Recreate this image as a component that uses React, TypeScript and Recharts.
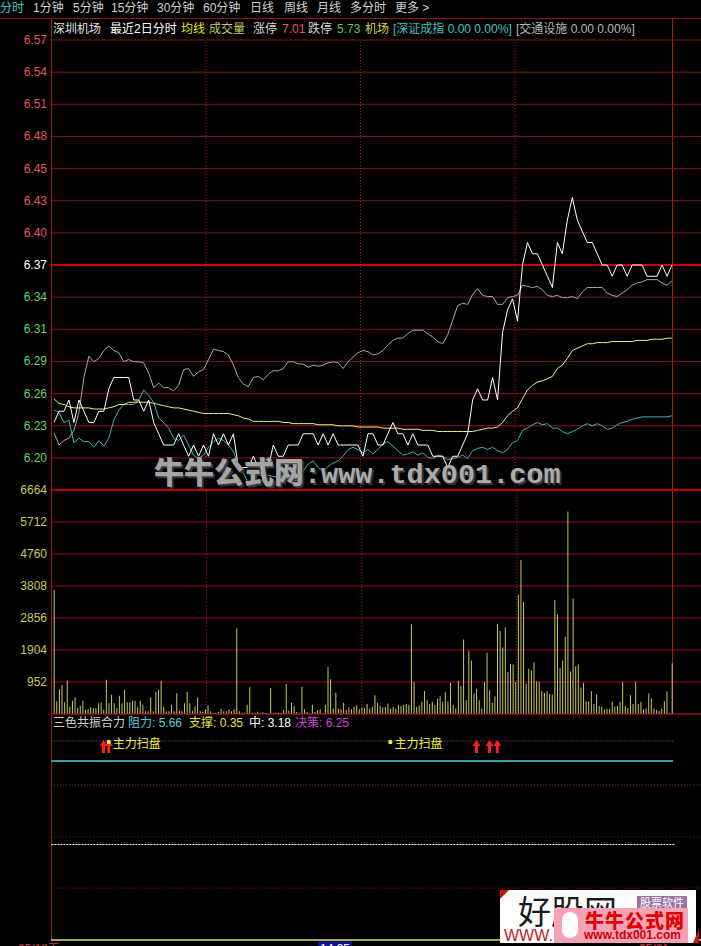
import React from "react";
import {
  LineChart,
  Line,
  BarChart,
  Bar,
  ComposedChart,
  Scatter,
  XAxis,
  YAxis,
  CartesianGrid,
  ReferenceLine,
} from "recharts";

// ---- price panel (2 days, sampled) ----
const PREV_CLOSE = 6.37;
const PRICE_LABELS = ["6.20", "6.23", "6.26", "6.29", "6.31", "6.34", "6.37", "6.40", "6.43", "6.45", "6.48", "6.51", "6.54", "6.57"];
const PRICE_TICKS = PRICE_LABELS.map((_, i) => PREV_CLOSE + ((i - 6) * 0.2) / 7);

const PRICE = [
  6.23, 6.24, 6.24, 6.25, 6.23, 6.25, 6.24, 6.23, 6.23, 6.24,
  6.24, 6.26, 6.27, 6.27, 6.27, 6.27, 6.25, 6.25, 6.24, 6.25,
  6.23, 6.22, 6.21, 6.21, 6.21, 6.22, 6.21, 6.20, 6.21, 6.20,
  6.21, 6.20, 6.22, 6.21, 6.22, 6.21, 6.22, 6.19, 6.19, 6.19,
  6.20, 6.19, 6.19, 6.19, 6.21, 6.20, 6.20, 6.21, 6.21, 6.21,
  6.22, 6.22, 6.22, 6.21, 6.22, 6.21, 6.22, 6.21, 6.21, 6.21,
  6.21, 6.21, 6.20, 6.22, 6.22, 6.21, 6.21, 6.22, 6.23, 6.22,
  6.22, 6.21, 6.22, 6.21, 6.21, 6.21, 6.20, 6.20, 6.20, 6.19,
  6.20, 6.20, 6.21, 6.22, 6.25, 6.26, 6.25, 6.25, 6.27, 6.25,
  6.31, 6.33, 6.34, 6.32, 6.37, 6.39, 6.38, 6.38, 6.37, 6.36,
  6.35, 6.39, 6.38, 6.41, 6.43, 6.41, 6.40, 6.39, 6.39, 6.38,
  6.37, 6.37, 6.36, 6.37, 6.37, 6.36, 6.37, 6.37, 6.37, 6.36,
  6.36, 6.36, 6.37, 6.36, 6.37,
];

// 深证成指 overlay
const INDEX = [
  6.221, 6.210, 6.214, 6.216, 6.223, 6.239, 6.270, 6.289, 6.284, 6.287,
  6.294, 6.298, 6.294, 6.292, 6.284, 6.286, 6.284, 6.284, 6.283, 6.274,
  6.261, 6.265, 6.261, 6.261, 6.258, 6.263, 6.277, 6.278, 6.271, 6.275,
  6.277, 6.286, 6.295, 6.294, 6.293, 6.290, 6.281, 6.270, 6.264, 6.262,
  6.270, 6.271, 6.268, 6.273, 6.276, 6.276, 6.278, 6.284, 6.284, 6.282,
  6.282, 6.279, 6.281, 6.280, 6.281, 6.283, 6.284, 6.283, 6.278, 6.284,
  6.288, 6.292, 6.294, 6.293, 6.290, 6.291, 6.294, 6.299, 6.303, 6.305,
  6.305, 6.309, 6.312, 6.312, 6.312, 6.309, 6.306, 6.302, 6.300, 6.308,
  6.321, 6.334, 6.336, 6.335, 6.344, 6.349, 6.343, 6.342, 6.342, 6.335,
  6.335, 6.341, 6.342, 6.343, 6.352, 6.351, 6.350, 6.351, 6.348, 6.343,
  6.342, 6.343, 6.341, 6.341, 6.342, 6.340, 6.346, 6.350, 6.350, 6.350,
  6.350, 6.345, 6.343, 6.342, 6.345, 6.348, 6.352, 6.354, 6.355, 6.357,
  6.357, 6.357, 6.354, 6.352, 6.356,
];

// 交通设施 overlay
const SECTOR = [
  6.241, 6.239, 6.230, 6.232, 6.212, 6.216, 6.213, 6.213, 6.208, 6.214,
  6.209, 6.216, 6.232, 6.241, 6.246, 6.246, 6.246, 6.250, 6.259, 6.254,
  6.248, 6.234, 6.230, 6.225, 6.216, 6.214, 6.219, 6.210, 6.201, 6.198,
  6.201, 6.208, 6.213, 6.216, 6.214, 6.210, 6.204, 6.192, 6.185, 6.176,
  6.173, 6.175, 6.180, 6.183, 6.182, 6.181, 6.188, 6.182, 6.178, 6.179,
  6.187, 6.193, 6.196, 6.190, 6.187, 6.191, 6.194, 6.196, 6.200, 6.206,
  6.208, 6.206, 6.203, 6.206, 6.202, 6.206, 6.211, 6.213, 6.209, 6.205,
  6.201, 6.202, 6.204, 6.201, 6.203, 6.199, 6.198, 6.201, 6.200, 6.197,
  6.198, 6.199, 6.201, 6.198, 6.205, 6.207, 6.208, 6.206, 6.208, 6.205,
  6.203, 6.206, 6.212, 6.214, 6.223, 6.225, 6.228, 6.230, 6.228, 6.229,
  6.225, 6.225, 6.222, 6.220, 6.222, 6.224, 6.227, 6.229, 6.227, 6.229,
  6.227, 6.224, 6.225, 6.228, 6.230, 6.231, 6.233, 6.234, 6.235, 6.235,
  6.235, 6.235, 6.235, 6.235, 6.236,
];

// 均线
const AVG = [
  6.251, 6.247, 6.246, 6.244, 6.243, 6.243, 6.243, 6.243, 6.242, 6.242,
  6.242, 6.243, 6.244, 6.246, 6.246, 6.248, 6.248, 6.248, 6.248, 6.248,
  6.247, 6.246, 6.245, 6.244, 6.243, 6.243, 6.242, 6.241, 6.240, 6.239,
  6.238, 6.238, 6.238, 6.238, 6.238, 6.238, 6.237, 6.236, 6.234, 6.233,
  6.231, 6.231, 6.231, 6.231, 6.231, 6.231, 6.230, 6.230, 6.229, 6.229,
  6.229, 6.229, 6.229, 6.228, 6.228, 6.228, 6.228, 6.227, 6.227, 6.227,
  6.227, 6.226, 6.226, 6.226, 6.226, 6.226, 6.225, 6.225, 6.225, 6.225,
  6.224, 6.224, 6.224, 6.224, 6.223, 6.223, 6.223, 6.222, 6.222, 6.222,
  6.222, 6.222, 6.222, 6.222, 6.222, 6.223, 6.224, 6.225, 6.225, 6.226,
  6.230, 6.236, 6.240, 6.243, 6.251, 6.259, 6.263, 6.266, 6.267, 6.269,
  6.271, 6.278, 6.281, 6.287, 6.294, 6.296, 6.298, 6.300, 6.300, 6.301,
  6.301, 6.301, 6.302, 6.302, 6.302, 6.302, 6.302, 6.303, 6.303, 6.303,
  6.304, 6.304, 6.304, 6.305, 6.305,
];

// session boundaries (11:30 / day change / 11:30), in sample index
const PRICE_BREAKS = [30.5, 61.5, 92.5];

// ---- volume panel ----
const VOL_TICKS = [952, 1904, 2856, 3808, 4760, 5712, 6664];
const VOL_DAY1 = [
  3690, 377, 734, 873, 347, 992, 218, 397, 496, 179,
  248, 397, 119, 149, 198, 179, 169, 317, 347, 129,
  1022, 317, 575, 317, 169, 546, 317, 724, 347, 347,
  397, 397, 198, 397, 278, 79, 79, 496, 79, 665,
  724, 992, 218, 79, 79, 278, 79, 615, 99, 79,
  317, 665, 317, 99, 228, 496, 79, 69, 139, 258,
  79, 40, 40, 60, 159, 79, 79, 119, 79, 139,
  2549, 79, 40, 40, 278, 794, 40, 40, 69, 40,
  50, 20, 20, 774, 20, 40, 40, 40, 119, 893,
  99, 337, 248, 60, 40, 813, 139, 60, 20, 278,
  60, 119, 139, 20, 278, 1409, 1032, 159, 635, 159,
  139, 337, 119, 198, 139, 218, 258, 139, 218, 179, 298,
];
const VOL_DAY2 = [
  157, 216, 559, 334, 235, 196, 216, 314, 167, 216,
  157, 265, 235, 275, 294, 275, 2668, 952, 216, 255,
  363, 687, 412, 294, 363, 265, 461, 530, 363, 647,
  373, 922, 265, 167, 981, 824, 2217, 412, 1884, 1589,
  608, 746, 412, 167, 952, 1825, 706, 334, 530, 2688,
  2472, 1982, 2570, 1246, 1491, 1472, 952, 3551, 4581, 3335,
  902, 1344, 1295, 1540, 971, 952, 687, 628, 677, 589,
  579, 3394, 2963, 1364, 1589, 2296, 6023, 1265, 3434, 1413,
  1472, 785, 932, 383, 383, 677, 294, 579, 235, 216,
  137, 167, 147, 363, 216, 235, 363, 952, 235, 177,
  559, 294, 952, 294, 363, 137, 167, 608, 461, 167,
  118, 98, 167, 383, 677, 39, 1511,
];
const VOLUME = [...VOL_DAY1, ...VOL_DAY2];
const VOL_BREAKS = [58.5, 118, 177.5];

// ---- 三色共振合力 ----
const RESIST = 5.66;
const SUPPORT = 0.35;
const MID = 3.18;
const DECISION = 6.25;
const IND_GRID = [4.95, 3.4, 1.89];
const ARROW_BARS = [19, 21, 162, 167, 170];
const SWEEP_BARS = [21, 129];

const GRID = "#8c1212";
const FONT = "'Liberation Sans', 'Noto Sans CJK SC', sans-serif";
const CJK = "'Noto Sans CJK SC', sans-serif";

const MENU: [string, number, string][] = [
  ["分时", 0, "#40c8c8"],
  ["1分钟", 33, "#d0d0d0"],
  ["5分钟", 73, "#d0d0d0"],
  ["15分钟", 111, "#d0d0d0"],
  ["30分钟", 157, "#d0d0d0"],
  ["60分钟", 203, "#d0d0d0"],
  ["日线", 250, "#d0d0d0"],
  ["周线", 284, "#d0d0d0"],
  ["月线", 317, "#d0d0d0"],
  ["多分时", 350, "#d0d0d0"],
  ["更多 >", 395, "#d0d0d0"],
];

const HEADER: [string, number, string][] = [
  ["深圳机场", 53, "#e0e0e0"],
  ["最近2日分时", 110, "#ffffff"],
  ["均线", 181, "#e8e800"],
  ["成交量", 209, "#c8c860"],
  ["涨停", 253, "#d8d8d8"],
  ["7.01", 282, "#f05050"],
  ["跌停", 308, "#d8d8d8"],
  ["5.73", 337, "#50d050"],
  ["机场", 365, "#d8d840"],
  ["[深证成指 0.00 0.00%]", 393, "#40c0c0"],
  ["[交通设施 0.00 0.00%]", 516, "#b8b8b8"],
];

const IND_HEADER: [string, number, string][] = [
  ["三色共振合力", 53, "#d0d0d0"],
  [`阻力: ${RESIST.toFixed(2)}`, 128, "#50d0d0"],
  [`支撑: ${SUPPORT.toFixed(2)}`, 189, "#e0e040"],
  [`中: ${MID.toFixed(2)}`, 249, "#ffffff"],
  [`决策: ${DECISION.toFixed(2)}`, 295, "#d040d0"],
];

function Txt({ x, y, color, children, size = 12, font = FONT }: any) {
  return (
    <div
      style={{
        position: "absolute",
        left: x,
        top: y - 7,
        color,
        fontSize: size,
        lineHeight: "14px",
        fontFamily: font,
        whiteSpace: "pre",
      }}
    >
      {children}
    </div>
  );
}

function renderPriceTick(props: any) {
  const { x, y, payload } = props;
  const v = payload.value;
  const i = PRICE_TICKS.findIndex((t) => Math.abs(t - v) < 1e-6);
  const color = Math.abs(v - PREV_CLOSE) < 1e-6 ? "#ffffff" : v > PREV_CLOSE ? "#e05858" : "#66d466";
  return (
    <text x={x} y={y} dy={4} textAnchor="end" fill={color} fontSize={12} fontFamily={FONT}>
      {PRICE_LABELS[i]}
    </text>
  );
}

function renderVolTick(props: any) {
  const { x, y, payload } = props;
  return (
    <text x={x} y={y} dy={4} textAnchor="end" fill="#c8c85a" fontSize={12} fontFamily={FONT}>
      {payload.value}
    </text>
  );
}

function renderArrow(props: any) {
  const { cx, cy } = props;
  return (
    <path
      d={`M${cx},${cy - 1} L${cx + 4},${cy + 5} L${cx + 1.5},${cy + 5} L${cx + 1.5},${cy + 12} L${cx - 1.5},${cy + 12} L${cx - 1.5},${cy + 5} L${cx - 4},${cy + 5} Z`}
      fill="#ff1e1e"
    />
  );
}

function renderSweep(props: any) {
  const { cx, cy } = props;
  return (
    <g>
      <circle cx={cx} cy={cy + 1} r={2.2} fill="#f0f020" />
      <text x={cx + 4} y={cy + 7} fill="#f0f040" fontSize={12} fontFamily={CJK}>
        主力扫盘
      </text>
    </g>
  );
}

export default function App() {
  const priceData = PRICE.map((w, i) => ({ t: i, w, g: INDEX[i], c: SECTOR[i], a: AVG[i] }));
  const volData = VOLUME.map((v, i) => ({ t: i, v }));
  const arrowData = ARROW_BARS.map((t) => ({ t, v: DECISION }));
  const sweepData = SWEEP_BARS.map((t) => ({ t, v: DECISION }));
  const lastBar = VOLUME.length - 1;

  return (
    <div style={{ position: "absolute", left: 0, top: 0, width: 701, height: 946, background: "#000", overflow: "hidden" }}>
      {/* frame */}
      <div style={{ position: "absolute", left: 0, top: 18, width: 701, height: 1, background: "#8c1212" }} />
      <div style={{ position: "absolute", left: 51, top: 19, width: 1, height: 921, background: "#b01818" }} />
      <div style={{ position: "absolute", left: 672, top: 19, width: 1, height: 695, background: "#c01010" }} />

      {/* price */}
      <div style={{ position: "absolute", left: 0, top: 0 }}>
        <LineChart width={701} height={500} data={priceData} margin={{ top: 40, right: 0, bottom: 10, left: 0 }}>
          <CartesianGrid vertical={false} stroke={GRID} />
          <XAxis dataKey="t" type="number" domain={[0, PRICE.length - 1]} hide padding={{ left: 3, right: 29 }} />
          <YAxis
            type="number"
            domain={[PREV_CLOSE - 0.2, PREV_CLOSE + 0.2]}
            ticks={PRICE_TICKS}
            interval={0}
            width={51}
            tick={renderPriceTick}
            axisLine={false}
            tickLine={false}
            tickSize={0}
            tickMargin={4}
            allowDataOverflow
          />
          <ReferenceLine y={PREV_CLOSE} stroke="#d00000" strokeWidth={2} />
          {PRICE_BREAKS.map((x) => (
            <ReferenceLine key={x} x={x} stroke="#b02020" strokeDasharray="1 2" />
          ))}
          <Line dataKey="g" stroke="#a8a8a8" strokeWidth={1} dot={false} isAnimationActive={false} />
          <Line dataKey="c" stroke="#3cb4b4" strokeWidth={1} dot={false} isAnimationActive={false} />
          <Line dataKey="a" stroke="#f0f080" strokeWidth={1} dot={false} isAnimationActive={false} />
          <Line dataKey="w" stroke="#ffffff" strokeWidth={1} dot={false} isAnimationActive={false} />
        </LineChart>
      </div>

      {/* volume */}
      <div style={{ position: "absolute", left: 0, top: 480 }}>
        <BarChart width={701} height={250} data={volData} margin={{ top: 10, right: 0, bottom: 16, left: 0 }}>
          <CartesianGrid vertical={false} stroke={GRID} />
          <XAxis dataKey="t" type="number" domain={[0, lastBar]} hide padding={{ left: 3, right: 29 }} />
          <YAxis
            type="number"
            domain={[0, 6664]}
            ticks={VOL_TICKS}
            interval={0}
            width={51}
            tick={renderVolTick}
            axisLine={false}
            tickLine={false}
            tickSize={0}
            tickMargin={4}
            allowDataOverflow
          />
          <ReferenceLine y={0} stroke={GRID} />
          <ReferenceLine y={6664} stroke="#c00000" strokeWidth={2} />
          {VOL_BREAKS.map((x) => (
            <ReferenceLine key={x} x={x} stroke="#b02020" strokeDasharray="1 2" />
          ))}
          <Bar dataKey="v" fill="#c8c858" barSize={1} isAnimationActive={false} />
        </BarChart>
      </div>

      {/* indicator */}
      <div style={{ position: "absolute", left: 0, top: 731 }}>
        <ComposedChart width={701} height={220} margin={{ top: 10, right: 0, bottom: 11, left: 51 }}>
          <XAxis dataKey="t" type="number" domain={[0, lastBar]} hide padding={{ left: 3, right: 29 }} />
          <YAxis dataKey="v" type="number" domain={[SUPPORT, DECISION]} hide />
          {IND_GRID.map((y) => (
            <ReferenceLine key={y} y={y} stroke="#902020" strokeDasharray="1 2" />
          ))}
          <ReferenceLine
            segment={[{ x: -1, y: DECISION }, { x: lastBar + 1, y: DECISION }]}
            stroke="#c040c0"
            strokeDasharray="1 2"
            ifOverflow="visible"
          />
          <ReferenceLine
            segment={[{ x: -1, y: RESIST }, { x: lastBar + 0.4, y: RESIST }]}
            stroke="#48d0d0"
            strokeWidth={1.5}
            ifOverflow="visible"
          />
          <ReferenceLine
            segment={[{ x: -1, y: MID }, { x: lastBar + 1, y: MID }]}
            stroke="#ffffff"
            strokeDasharray="2 1"
            ifOverflow="visible"
          />
          <ReferenceLine y={SUPPORT} stroke="#e0e060" strokeWidth={1.5} />
          <Scatter data={arrowData} dataKey="v" shape={renderArrow} isAnimationActive={false} />
          <Scatter data={sweepData} dataKey="v" shape={renderSweep} isAnimationActive={false} />
        </ComposedChart>
      </div>

      {/* texts */}
      {MENU.map(([s, x, c]) => (
        <Txt key={s} x={x} y={8} color={c}>
          {s}
        </Txt>
      ))}
      {HEADER.map(([s, x, c]) => (
        <Txt key={s} x={x} y={29} color={c}>
          {s}
        </Txt>
      ))}
      {IND_HEADER.map(([s, x, c]) => (
        <Txt key={s} x={x} y={723} color={c}>
          {s}
        </Txt>
      ))}

      {/* watermark */}
      <div style={{ position: "absolute", left: 154, top: 452, whiteSpace: "pre", display: "flex", alignItems: "baseline" }}>
        <span style={{ fontFamily: CJK, fontWeight: 900, fontSize: 30, color: "#a4a4a4", textShadow: "2px 2px 1px #3a3a3a", lineHeight: "36px" }}>
          牛牛公式网
        </span>
        <span style={{ fontFamily: "'Liberation Mono', monospace", fontWeight: 700, fontSize: 28.5, color: "#acacac", textShadow: "2px 2px 1px #3a3a3a", lineHeight: "36px" }}>
          :www.tdx001.com
        </span>
      </div>

      {/* time axis (cut off at the bottom edge, as in the screenshot) */}
      <Txt x={18} y={949} color="#c84040">
        05/18五
      </Txt>
      <div style={{ position: "absolute", left: 318, top: 941, width: 34, height: 8, background: "#101090" }} />
      <Txt x={320} y={949} color="#ffffff">
        14:35
      </Txt>
      <Txt x={639} y={949} color="#c84040">
        05/21
      </Txt>

      {/* logo */}
      <div style={{ position: "absolute", left: 500, top: 890, width: 196, height: 53, background: "#ffffff" }}>
        <div style={{ position: "absolute", left: 0, top: 0, width: 0, height: 0, borderTop: "9px solid #d01010", borderRight: "9px solid transparent" }} />
        <div style={{ position: "absolute", right: -3, bottom: 0, width: 0, height: 0, borderBottom: "14px solid #d01010", borderLeft: "6px solid transparent" }} />
        <div style={{ position: "absolute", left: 18, top: 0, fontFamily: CJK, fontSize: 33, lineHeight: "40px", color: "#1a1a1a" }}>好股网</div>
        <div style={{ position: "absolute", left: 137, top: 6, width: 50, height: 13, background: "#9a72a0", color: "#fff", fontFamily: CJK, fontSize: 11, lineHeight: "13px", textAlign: "center" }}>
          股票软件
        </div>
        <div style={{ position: "absolute", left: 4, top: 38, fontFamily: FONT, fontSize: 16, lineHeight: "16px", color: "#c02020" }}>WWW.</div>
        <div style={{ position: "absolute", left: 54, top: 18, width: 134, height: 35, background: "#f6a2b6" }}>
          <div style={{ position: "absolute", left: 8, top: 4, width: 16, height: 26, borderRadius: 8, background: "#ffffff" }} />
          <div style={{ position: "absolute", left: 31, top: 1, fontFamily: CJK, fontWeight: 900, fontSize: 19, lineHeight: "22px", color: "#e00000", letterSpacing: 1 }}>
            牛牛公式网
          </div>
          <div style={{ position: "absolute", left: 30, top: 21, fontFamily: FONT, fontWeight: 700, fontSize: 12, lineHeight: "13px", color: "#d00000" }}>
            www.tdx001.com
          </div>
        </div>
      </div>
    </div>
  );
}
